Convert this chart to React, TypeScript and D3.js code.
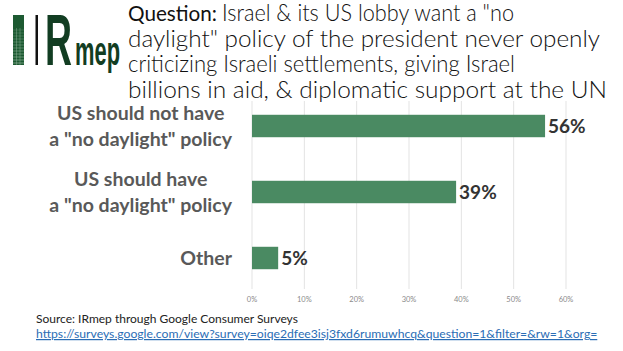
import React, { useRef, useEffect } from "react";
import * as d3 from "d3";

// chart data
const categoryLines: string[][] = [
  ["US should not have", 'a "no daylight" policy'],
  ["US should have", 'a "no daylight" policy'],
  ["Other"],
];
const categoryKeys = ["not", "have", "other"];
const values = [56, 39, 5];
const tickValues = [0, 10, 20, 30, 40, 50, 60];

const titleLines = [
  'Israel & its US lobby want a "no',
  'daylight" policy of the president never openly',
  "criticizing Israeli settlements, giving Israel",
  "billions in aid, & diplomatic support at the UN",
];
// widths of the title lines as they appear in the reference
const titleWidths = [292, 472, 387, 479];
const sourceText = "Source: IRmep through Google Consumer Surveys";
const urlText =
  "https://surveys.google.com/view?survey=oiqe2dfee3isj3fxd6rumuwhcq&question=1&filter=&rw=1&org=";

const W = 623;
const H = 351;
const FONT = "Lato, 'Open Sans', sans-serif";
const LOGO_FONT = "'Liberation Sans Narrow', 'Liberation Sans', Arial, sans-serif";

const App = () => {
  const svgRef = useRef<SVGSVGElement>(null);

  useEffect(() => {
    const svg = d3.select(svgRef.current);
    svg.selectAll("*").remove();

    svg.append("rect").attr("width", W).attr("height", H).attr("fill", "white");

    // logo
    const logo = svg.append("g");
    logo
      .append("rect")
      .attr("x", 13)
      .attr("y", 15)
      .attr("width", 11)
      .attr("height", 50)
      .attr("fill", "#1d5a32");
    // grid pattern on the green bar
    for (let i = 0; i < 12; i++) {
      logo
        .append("line")
        .attr("x1", 13)
        .attr("x2", 24)
        .attr("y1", 30 + i * 3)
        .attr("y2", 30 + i * 3)
        .attr("stroke", "#b8d4bf")
        .attr("stroke-width", 0.6)
        .attr("opacity", 0.3 + i * 0.05);
    }
    [16.5, 20].forEach((gx) => {
      logo
        .append("line")
        .attr("x1", gx)
        .attr("x2", gx)
        .attr("y1", 28)
        .attr("y2", 65)
        .attr("stroke", "#b8d4bf")
        .attr("stroke-width", 0.6)
        .attr("opacity", 0.5);
    });
    logo
      .append("rect")
      .attr("x", 35.5)
      .attr("y", 15)
      .attr("width", 2.5)
      .attr("height", 50)
      .attr("fill", "#111");
    logo
      .append("text")
      .attr("transform", "translate(45,65) scale(1,1.55)")
      .attr("font-family", LOGO_FONT)
      .attr("font-weight", 700)
      .attr("font-size", 47)
      .attr("fill", "#123d22")
      .attr("textLength", 27)
      .attr("lengthAdjust", "spacingAndGlyphs")
      .text("R");
    logo
      .append("text")
      .attr("transform", "translate(75,65) scale(1,1.5)")
      .attr("font-family", LOGO_FONT)
      .attr("font-weight", 700)
      .attr("font-size", 27)
      .attr("fill", "#123d22")
      .attr("textLength", 45)
      .attr("lengthAdjust", "spacingAndGlyphs")
      .text("mep");

    // title
    titleLines.forEach((line, i) => {
      const yy = 21 + i * 25.5;
      if (i === 0) {
        svg
          .append("text")
          .attr("x", 128)
          .attr("y", yy)
          .attr("font-family", FONT)
          .attr("font-size", 22)
          .attr("font-weight", 400)
          .attr("fill", "#111")
          .attr("textLength", 89)
          .attr("lengthAdjust", "spacingAndGlyphs")
          .text("Question:");
      }
      svg
        .append("text")
        .attr("x", i === 0 ? 222 : 128)
        .attr("y", yy)
        .attr("font-family", FONT)
        .attr("font-size", 22.5)
        .attr("font-weight", 300)
        .attr("fill", "#111")
        .attr("textLength", titleWidths[i])
        .attr("lengthAdjust", "spacingAndGlyphs")
        .text(line);
    });

    // scales
    const x = d3.scaleLinear().domain([0, 60]).range([252, 566]);
    const y = d3
      .scaleBand()
      .domain(categoryKeys)
      .range([93, 291])
      .paddingInner(0.66)
      .paddingOuter(0.33);

    // gridlines
    svg
      .append("g")
      .selectAll("line")
      .data(tickValues)
      .enter()
      .append("line")
      .attr("x1", (d) => x(d))
      .attr("x2", (d) => x(d))
      .attr("y1", 101)
      .attr("y2", 289)
      .attr("stroke", "#e3e3e3")
      .attr("stroke-width", 1);

    // tick labels
    svg
      .append("g")
      .selectAll("text")
      .data(tickValues)
      .enter()
      .append("text")
      .attr("x", (d) => x(d))
      .attr("y", 302)
      .attr("text-anchor", "middle")
      .attr("font-family", FONT)
      .attr("font-size", 7.5)
      .attr("fill", "#8a8a8a")
      .text((d) => d + "%");

    // bars
    svg
      .append("g")
      .selectAll("rect")
      .data(values)
      .enter()
      .append("rect")
      .attr("x", x(0))
      .attr("y", (d, i) => y(categoryKeys[i]) as number)
      .attr("width", (d) => x(d) - x(0))
      .attr("height", y.bandwidth())
      .attr("fill", "#4a8a62");

    // value labels
    svg
      .append("g")
      .selectAll("text")
      .data(values)
      .enter()
      .append("text")
      .attr("x", (d) => x(d) + 3)
      .attr("y", (d, i) => (y(categoryKeys[i]) as number) + y.bandwidth() / 2)
      .attr("dy", "0.36em")
      .attr("font-family", FONT)
      .attr("font-weight", 700)
      .attr("font-size", 19)
      .attr("fill", "#333")
      .text((d) => d + "%");

    // category labels, right edge of the block at 232
    const rightEdge = 232;
    categoryLines.forEach((lines, i) => {
      const cy = (y(categoryKeys[i]) as number) + y.bandwidth() / 2;
      const g = svg.append("g");
      const lineH = 26;
      const texts = lines.map((line, j) =>
        g
          .append("text")
          .attr("y", cy + (j - (lines.length - 1) / 2) * lineH)
          .attr("dy", "0.36em")
          .attr("text-anchor", "middle")
          .attr("font-family", FONT)
          .attr("font-weight", 700)
          .attr("font-size", 19.5)
          .attr("fill", "#595959")
          .text(line)
      );
      const maxW = d3.max(texts, (t) => (t.node() as SVGTextElement).getComputedTextLength()) || 0;
      texts.forEach((t) => t.attr("x", rightEdge - maxW / 2));
    });

    // source
    svg
      .append("text")
      .attr("x", 36)
      .attr("y", 323)
      .attr("font-family", FONT)
      .attr("font-size", 12)
      .attr("fill", "#222")
      .text(sourceText);
    svg
      .append("text")
      .attr("x", 36)
      .attr("y", 338)
      .attr("font-family", FONT)
      .attr("font-size", 12.2)
      .attr("fill", "#2a6db5")
      .attr("text-decoration", "underline")
      .text(urlText);
  }, []);

  return (
    <svg
      ref={svgRef}
      width={W}
      height={H}
      style={{ position: "absolute", left: 0, top: 0 }}
    ></svg>
  );
};

export default App;
